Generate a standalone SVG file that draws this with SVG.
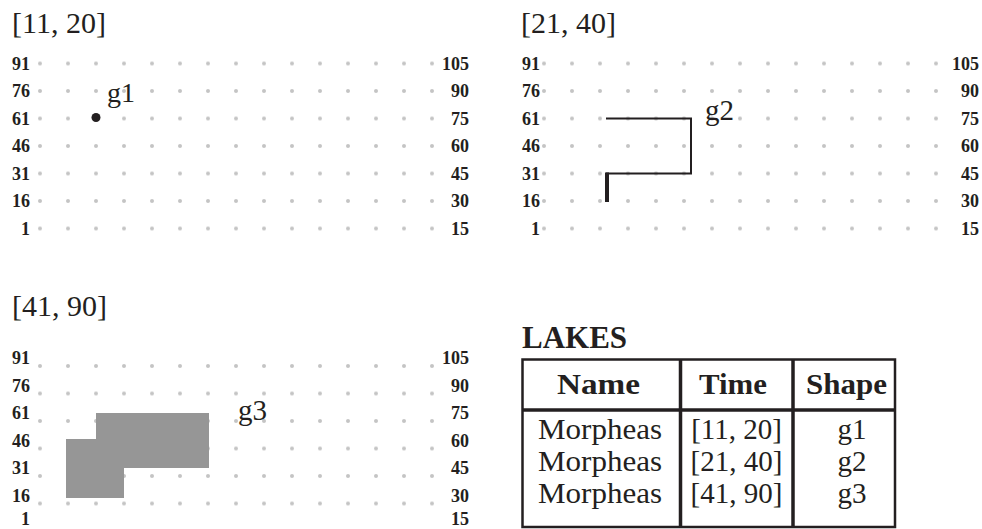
<svg xmlns="http://www.w3.org/2000/svg" width="982" height="529" viewBox="0 0 982 529">
<style>
.title{font-family:"Liberation Serif",serif;font-size:30px;fill:#231f20}
.lbl{font-family:"Liberation Serif",serif;font-size:18px;font-weight:bold;fill:#231f20;text-anchor:end}
.gl{font-family:"Liberation Serif",serif;font-size:29px;fill:#231f20}
.hd{font-family:"Liberation Serif",serif;font-size:30px;font-weight:bold;fill:#231f20;text-anchor:middle}
.bd{font-family:"Liberation Serif",serif;font-size:29px;fill:#231f20;text-anchor:middle}
.tl{stroke:#231f20;fill:none}
</style>
<defs>
<pattern id="dots" patternUnits="userSpaceOnUse" x="26" y="49.75" width="28" height="27.5">
<circle cx="14" cy="13.75" r="2" fill="#c4c4c4"/>
</pattern>
</defs>

<g id="panel1">
<text class="title" x="12" y="33">[11, 20]</text>
<rect x="26" y="49.75" width="420" height="192.5" fill="url(#dots)"/>
<g>
<text class="lbl" x="30" y="69.5">91</text>
<text class="lbl" x="30" y="97">76</text>
<text class="lbl" x="30" y="124.5">61</text>
<text class="lbl" x="30" y="152">46</text>
<text class="lbl" x="30" y="179.5">31</text>
<text class="lbl" x="30" y="207">16</text>
<text class="lbl" x="30" y="234.5">1</text>
<text class="lbl" x="469" y="69.5">105</text>
<text class="lbl" x="469" y="97">90</text>
<text class="lbl" x="469" y="124.5">75</text>
<text class="lbl" x="469" y="152">60</text>
<text class="lbl" x="469" y="179.5">45</text>
<text class="lbl" x="469" y="207">30</text>
<text class="lbl" x="469" y="234.5">15</text>
</g>
<g id="g1">
<circle cx="96" cy="117.5" r="4.5" fill="#231f20"/>
<text class="gl" x="107" y="102" style="font-size:28px">g1</text>
</g>
</g>

<g id="panel2">
<text class="title" x="521" y="33">[21, 40]</text>
<rect x="536" y="49.75" width="420" height="192.5" fill="url(#dots)"/>
<g>
<text class="lbl" x="540" y="69.5">91</text>
<text class="lbl" x="540" y="97">76</text>
<text class="lbl" x="540" y="124.5">61</text>
<text class="lbl" x="540" y="152">46</text>
<text class="lbl" x="540" y="179.5">31</text>
<text class="lbl" x="540" y="207">16</text>
<text class="lbl" x="540" y="234.5">1</text>
<text class="lbl" x="979" y="69.5">105</text>
<text class="lbl" x="979" y="97">90</text>
<text class="lbl" x="979" y="124.5">75</text>
<text class="lbl" x="979" y="152">60</text>
<text class="lbl" x="979" y="179.5">45</text>
<text class="lbl" x="979" y="207">30</text>
<text class="lbl" x="979" y="234.5">15</text>
</g>
<g id="g2">
<polyline class="tl" stroke-width="2" points="606,118.5 691,118.5 691,173.5 606,173.5"/>
<line class="tl" stroke-width="4" x1="607" y1="172.5" x2="607" y2="202"/>
<text class="gl" x="705" y="120">g2</text>
</g>
</g>

<g id="panel3">
<text class="title" x="12" y="316">[41, 90]</text>
<rect x="26" y="344.25" width="420" height="184.75" fill="url(#dots)"/>
<g>
<text class="lbl" x="30" y="364">91</text>
<text class="lbl" x="30" y="391.5">76</text>
<text class="lbl" x="30" y="419">61</text>
<text class="lbl" x="30" y="446.5">46</text>
<text class="lbl" x="30" y="474">31</text>
<text class="lbl" x="30" y="501.5">16</text>
<text class="lbl" x="30" y="524.5">1</text>
<text class="lbl" x="469" y="364">105</text>
<text class="lbl" x="469" y="391.5">90</text>
<text class="lbl" x="469" y="419">75</text>
<text class="lbl" x="469" y="446.5">60</text>
<text class="lbl" x="469" y="474">45</text>
<text class="lbl" x="469" y="501.5">30</text>
<text class="lbl" x="469" y="524.5">15</text>
</g>
<g id="g3">
<polygon points="96,413 209,413 209,468 124,468 124,498 66,498 66,439 96,439" fill="#969696"/>
<text class="gl" x="238" y="420">g3</text>
</g>
</g>

<g id="lakes-table">
<text x="522" y="348" style="font-family:'Liberation Serif',serif;font-size:31px;font-weight:bold;fill:#231f20">LAKES</text>
<rect x="522.5" y="359.5" width="372.5" height="167.5" fill="none" stroke="#231f20" stroke-width="2.5"/>
<line x1="522" y1="410" x2="895" y2="410" stroke="#231f20" stroke-width="3.5"/>
<line x1="680.5" y1="359" x2="680.5" y2="527" stroke="#231f20" stroke-width="3.5"/>
<line x1="793" y1="359" x2="793" y2="527" stroke="#231f20" stroke-width="3.5"/>
<text class="hd" x="598.5" y="394" textLength="83" lengthAdjust="spacingAndGlyphs">Name</text>
<text class="hd" x="733" y="394" textLength="68" lengthAdjust="spacingAndGlyphs">Time</text>
<text class="hd" x="846.5" y="394" textLength="81" lengthAdjust="spacingAndGlyphs">Shape</text>
<text class="bd" x="600" y="439" textLength="124" lengthAdjust="spacingAndGlyphs">Morpheas</text>
<text class="bd" x="600" y="471" textLength="124" lengthAdjust="spacingAndGlyphs">Morpheas</text>
<text class="bd" x="600" y="503" textLength="124" lengthAdjust="spacingAndGlyphs">Morpheas</text>
<text class="bd" x="736.5" y="439">[11, 20]</text>
<text class="bd" x="736.5" y="471">[21, 40]</text>
<text class="bd" x="736.5" y="503">[41, 90]</text>
<text class="bd" x="852" y="439">g1</text>
<text class="bd" x="852" y="471">g2</text>
<text class="bd" x="852" y="503">g3</text>
</g>
</svg>
